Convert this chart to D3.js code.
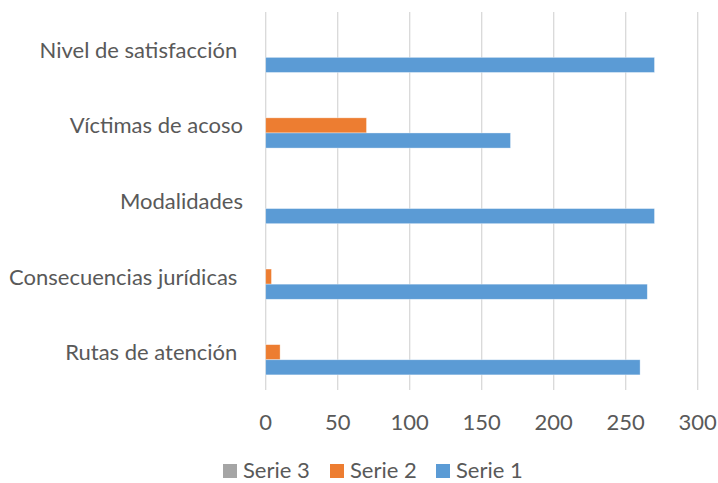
<!DOCTYPE html>
<html>
<head>
<meta charset="utf-8">
<script src="https://cdn.jsdelivr.net/npm/d3@7"></script>
<style>
  body { margin: 0; background: #fff; }
  text { font-family: Lato, "Open Sans", sans-serif; fill: #595959; white-space: pre; }
</style>
</head>
<body>
<div id="chart"></div>
<script>
const categories = ["Nivel de satisfacción ", "Víctimas de acoso", "Modalidades", "Consecuencias jurídicas ", "Rutas de atención "];
const serie1 = [270, 170, 270, 265, 260];
const serie2 = [0, 70, 0, 4, 10];
const serie3 = [0, 0, 0, 0, 0];
const seriesNames = ["Serie 3", "Serie 2", "Serie 1"];
const xTicks = [0, 50, 100, 150, 200, 250, 300];

const colors = { "Serie 1": "#5B9BD5", "Serie 2": "#ED7D31", "Serie 3": "#A5A5A5" };
const values = { "Serie 1": serie1, "Serie 2": serie2, "Serie 3": serie3 };

const width = 718, height = 483;
const plotLeft = 265.7, plotRight = 697.7, plotTop = 12, plotBottom = 390;

const svg = d3.select("#chart").append("svg")
    .attr("width", width)
    .attr("height", height);

const x = d3.scaleLinear().domain([0, 300]).range([plotLeft, plotRight]);
const y = d3.scaleBand().domain(categories).range([plotTop, plotBottom])
    .paddingInner(0.4).paddingOuter(0.2);
const ys = d3.scaleBand().domain(seriesNames).range([0, y.bandwidth()]);

// gridlines
svg.append("g").selectAll("line")
    .data(xTicks)
    .enter()
    .append("line")
    .attr("x1", d => x(d)).attr("x2", d => x(d))
    .attr("y1", plotTop).attr("y2", plotBottom)
    .attr("stroke", "#d9d9d9")
    .attr("stroke-width", 1.3);

// bars
const rows = [];
categories.forEach((c, i) => {
    seriesNames.forEach(s => rows.push({ cat: c, serie: s, value: values[s][i] }));
});

svg.append("g").selectAll("rect")
    .data(rows.filter(d => d.value > 0))
    .enter()
    .append("rect")
    .attr("x", x(0))
    .attr("y", d => y(d.cat) + ys(d.serie))
    .attr("width", d => x(d.value) - x(0))
    .attr("height", ys.bandwidth())
    .attr("fill", d => colors[d.serie])
    .attr("stroke", "#fff")
    .attr("stroke-opacity", 0.5)
    .attr("stroke-width", 0.7);

// category labels
svg.append("g").selectAll("text")
    .data(categories)
    .enter()
    .append("text")
    .attr("x", 243)
    .attr("y", d => y(d) + y.bandwidth() / 2 + 8)
    .attr("text-anchor", "end")
    .style("font-size", "22px")
    .text(d => d);

// x tick labels
svg.append("g").selectAll("text")
    .data(xTicks)
    .enter()
    .append("text")
    .attr("x", d => x(d))
    .attr("y", 430)
    .attr("text-anchor", "middle")
    .style("font-size", "22px")
    .text(d => d);

// legend
const legendX = { "Serie 3": 223, "Serie 2": 330, "Serie 1": 436 };
const legend = svg.append("g").selectAll("g")
    .data(seriesNames)
    .enter()
    .append("g")
    .attr("transform", d => `translate(${legendX[d]},464)`);
legend.append("rect")
    .attr("width", 14).attr("height", 14)
    .attr("fill", d => colors[d]);
legend.append("text")
    .attr("x", 20)
    .attr("y", 14)
    .style("font-size", "22px")
    .text(d => d);
</script>
</body>
</html>
